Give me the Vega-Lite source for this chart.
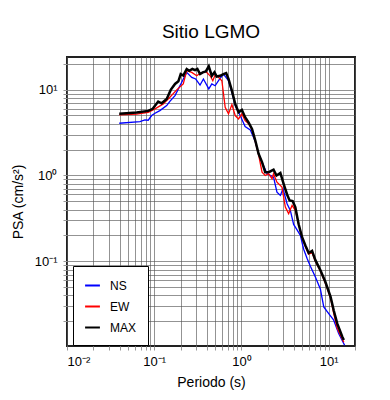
{
  "$schema": "https://vega.github.io/schema/vega-lite/v6.json",
  "autosize": "none",
  "width": 288,
  "height": 289,
  "padding": {"left": 67, "top": 57, "right": 35, "bottom": 54},
  "background": "white",
  "title": {"text": "Sitio LGMO", "font": "Liberation Sans", "fontSize": 19, "fontWeight": "normal", "color": "black", "offset": 15, "anchor": "middle"},
  "config": {
    "view": {"stroke": "#222", "strokeWidth": 2},
    "axis": {"labelFont": "Liberation Sans", "titleFont": "Liberation Sans", "labelFontSize": 13, "titleFontSize": 14, "titleFontWeight": "normal", "labelColor": "black", "titleColor": "black", "domain": false, "grid": true, "gridColor": "#555", "gridWidth": 0.8, "gridOpacity": 0.8, "tickColor": "#999", "tickSize": 4, "labelOverlap": false}
  },
  "data": {"values": [
    {"c":"NS","T":0.0397,"psa":4.06},{"c":"NS","T":0.0686,"psa":4.25},{"c":"NS","T":0.0782,"psa":4.44},{"c":"NS","T":0.0853,"psa":4.40},{"c":"NS","T":0.0933,"psa":4.99},{"c":"NS","T":0.102,"psa":5.3},{"c":"NS","T":0.116,"psa":5.70},{"c":"NS","T":0.139,"psa":6.51},{"c":"NS","T":0.151,"psa":7.31},{"c":"NS","T":0.173,"psa":8.52},{"c":"NS","T":0.189,"psa":10.2},{"c":"NS","T":0.2065,"psa":12.2},{"c":"NS","T":0.2355,"psa":15.9},{"c":"NS","T":0.269,"psa":13.9},{"c":"NS","T":0.299,"psa":13.3},{"c":"NS","T":0.335,"psa":11.3},{"c":"NS","T":0.366,"psa":13.3},{"c":"NS","T":0.422,"psa":10.2},{"c":"NS","T":0.457,"psa":11.65},{"c":"NS","T":0.499,"psa":11.1},{"c":"NS","T":0.545,"psa":12.7},{"c":"NS","T":0.621,"psa":15.2},{"c":"NS","T":0.710,"psa":12.7},{"c":"NS","T":0.776,"psa":9.3},{"c":"NS","T":0.847,"psa":6.51},{"c":"NS","T":0.966,"psa":4.99},{"c":"NS","T":1.10,"psa":3.71},{"c":"NS","T":1.26,"psa":3.40},{"c":"NS","T":1.44,"psa":2.48},{"c":"NS","T":1.57,"psa":1.79},{"c":"NS","T":1.72,"psa":1.42},{"c":"NS","T":1.96,"psa":1.05},{"c":"NS","T":2.33,"psa":0.956},{"c":"NS","T":2.55,"psa":0.639},{"c":"NS","T":2.79,"psa":0.585},{"c":"NS","T":2.99,"psa":0.700},{"c":"NS","T":3.33,"psa":0.469},{"c":"NS","T":3.63,"psa":0.392},{"c":"NS","T":3.96,"psa":0.269},{"c":"NS","T":4.37,"psa":0.229},{"c":"NS","T":4.73,"psa":0.200},{"c":"NS","T":5.16,"psa":0.138},{"c":"NS","T":5.65,"psa":0.108},{"c":"NS","T":6.16,"psa":0.0875},{"c":"NS","T":7.03,"psa":0.0657},{"c":"NS","T":8.03,"psa":0.0472},{"c":"NS","T":8.77,"psa":0.0294},{"c":"NS","T":10.0,"psa":0.0246},{"c":"NS","T":11.4,"psa":0.0206},{"c":"NS","T":13.0,"psa":0.0144},{"c":"NS","T":15.2,"psa":0.0105},
    {"c":"EW","T":0.0397,"psa":5.08},{"c":"EW","T":0.0628,"psa":5.19},{"c":"EW","T":0.0853,"psa":5.45},{"c":"EW","T":0.102,"psa":5.97},{"c":"EW","T":0.127,"psa":6.82},{"c":"EW","T":0.151,"psa":8.14},{"c":"EW","T":0.181,"psa":9.93},{"c":"EW","T":0.215,"psa":11.65},{"c":"EW","T":0.2355,"psa":16.6},{"c":"EW","T":0.269,"psa":15.9},{"c":"EW","T":0.307,"psa":14.5},{"c":"EW","T":0.335,"psa":15.5},{"c":"EW","T":0.390,"psa":16.3},{"c":"EW","T":0.437,"psa":14.5},{"c":"EW","T":0.469,"psa":12.7},{"c":"EW","T":0.499,"psa":14.9},{"c":"EW","T":0.545,"psa":13.9},{"c":"EW","T":0.596,"psa":12.7},{"c":"EW","T":0.650,"psa":6.23},{"c":"EW","T":0.710,"psa":5.22},{"c":"EW","T":0.776,"psa":6.69},{"c":"EW","T":0.847,"psa":4.99},{"c":"EW","T":0.925,"psa":4.56},{"c":"EW","T":1.01,"psa":5.22},{"c":"EW","T":1.10,"psa":4.36},{"c":"EW","T":1.20,"psa":4.02},{"c":"EW","T":1.32,"psa":3.43},{"c":"EW","T":1.44,"psa":2.48},{"c":"EW","T":1.57,"psa":1.75},{"c":"EW","T":1.72,"psa":1.09},{"c":"EW","T":1.87,"psa":1.0},{"c":"EW","T":2.04,"psa":1.05},{"c":"EW","T":2.24,"psa":0.915},{"c":"EW","T":2.33,"psa":1.05},{"c":"EW","T":2.55,"psa":0.836},{"c":"EW","T":2.91,"psa":0.731},{"c":"EW","T":3.18,"psa":0.428},{"c":"EW","T":3.47,"psa":0.359},{"c":"EW","T":3.80,"psa":0.448},{"c":"EW","T":4.14,"psa":0.392},{"c":"EW","T":4.52,"psa":0.269},{"c":"EW","T":4.94,"psa":0.19},{"c":"EW","T":5.40,"psa":0.149},{"c":"EW","T":5.89,"psa":0.121},{"c":"EW","T":6.44,"psa":0.126},{"c":"EW","T":7.03,"psa":0.1},{"c":"EW","T":8.03,"psa":0.0765},{"c":"EW","T":9.16,"psa":0.0555},{"c":"EW","T":10.5,"psa":0.0371},{"c":"EW","T":11.4,"psa":0.0248},{"c":"EW","T":12.5,"psa":0.0166},{"c":"EW","T":14.3,"psa":0.0124},{"c":"EW","T":14.9,"psa":0.0114},
    {"c":"MAX","T":0.0397,"psa":5.22},{"c":"MAX","T":0.0628,"psa":5.40},{"c":"MAX","T":0.0853,"psa":5.65},{"c":"MAX","T":0.096,"psa":5.97},{"c":"MAX","T":0.111,"psa":7.25},{"c":"MAX","T":0.1216,"psa":6.93},{"c":"MAX","T":0.139,"psa":7.80},{"c":"MAX","T":0.1545,"psa":9.93},{"c":"MAX","T":0.173,"psa":11.65},{"c":"MAX","T":0.189,"psa":12.5},{"c":"MAX","T":0.201,"psa":15.2},{"c":"MAX","T":0.215,"psa":14.6},{"c":"MAX","T":0.2355,"psa":17.4},{"c":"MAX","T":0.252,"psa":16.6},{"c":"MAX","T":0.2735,"psa":17.4},{"c":"MAX","T":0.294,"psa":16.9},{"c":"MAX","T":0.312,"psa":17.4},{"c":"MAX","T":0.335,"psa":15.2},{"c":"MAX","T":0.360,"psa":15.9},{"c":"MAX","T":0.390,"psa":16.3},{"c":"MAX","T":0.4217,"psa":18.7},{"c":"MAX","T":0.457,"psa":14.5},{"c":"MAX","T":0.490,"psa":15.9},{"c":"MAX","T":0.521,"psa":14.2},{"c":"MAX","T":0.569,"psa":14.5},{"c":"MAX","T":0.621,"psa":15.2},{"c":"MAX","T":0.667,"psa":15.6},{"c":"MAX","T":0.710,"psa":13.3},{"c":"MAX","T":0.776,"psa":9.73},{"c":"MAX","T":0.847,"psa":6.82},{"c":"MAX","T":0.925,"psa":5.45},{"c":"MAX","T":1.01,"psa":5.81},{"c":"MAX","T":1.10,"psa":4.77},{"c":"MAX","T":1.20,"psa":4.17},{"c":"MAX","T":1.32,"psa":3.49},{"c":"MAX","T":1.44,"psa":2.55},{"c":"MAX","T":1.57,"psa":1.79},{"c":"MAX","T":1.72,"psa":1.43},{"c":"MAX","T":1.87,"psa":1.09},{"c":"MAX","T":2.08,"psa":1.10},{"c":"MAX","T":2.33,"psa":1.17},{"c":"MAX","T":2.52,"psa":1.0},{"c":"MAX","T":2.79,"psa":1.07},{"c":"MAX","T":3.04,"psa":0.80},{"c":"MAX","T":3.33,"psa":0.60},{"c":"MAX","T":3.56,"psa":0.512},{"c":"MAX","T":3.86,"psa":0.502},{"c":"MAX","T":4.14,"psa":0.428},{"c":"MAX","T":4.52,"psa":0.27},{"c":"MAX","T":4.94,"psa":0.192},{"c":"MAX","T":5.40,"psa":0.153},{"c":"MAX","T":5.89,"psa":0.125},{"c":"MAX","T":6.44,"psa":0.132},{"c":"MAX","T":7.03,"psa":0.103},{"c":"MAX","T":8.03,"psa":0.0786},{"c":"MAX","T":9.16,"psa":0.0574},{"c":"MAX","T":10.5,"psa":0.0385},{"c":"MAX","T":11.4,"psa":0.0269},{"c":"MAX","T":12.5,"psa":0.0189},{"c":"MAX","T":14.3,"psa":0.0132},{"c":"MAX","T":14.9,"psa":0.0121}
  ]},
  "encoding": {
    "x": {"field": "T", "type": "quantitative",
      "scale": {"type": "log", "domain": [0.01, 20], "nice": false},
      "axis": {"title": "Periodo (s)", "titlePadding": 7, "labelPadding": 5,
        "values": [0.01,0.02,0.03,0.04,0.05,0.06,0.07,0.08,0.09,0.1,0.2,0.3,0.4,0.5,0.6,0.7,0.8,0.9,1,2,3,4,5,6,7,8,9,10,20],
        "labelExpr": "datum.value == 0.01 ? '10⁻²' : datum.value == 0.1 ? '10⁻¹' : datum.value == 1 ? '10⁰' : datum.value == 10 ? '10¹' : ''"}},
    "y": {"field": "psa", "type": "quantitative",
      "scale": {"type": "log", "domain": [0.0103, 24], "nice": false},
      "axis": {"title": "PSA (cm/s²)", "titlePadding": 9, "labelPadding": 6,
        "values": [0.02,0.03,0.04,0.05,0.06,0.07,0.08,0.09,0.1,0.2,0.3,0.4,0.5,0.6,0.7,0.8,0.9,1,2,3,4,5,6,7,8,9,10,20],
        "labelExpr": "datum.value == 0.1 ? '10⁻¹' : datum.value == 1 ? '10⁰' : datum.value == 10 ? '10¹' : ''"}},
    "color": {"field": "c", "type": "nominal",
      "scale": {"domain": ["NS", "EW", "MAX"], "range": ["#0000ff", "#ff0000", "#000000"]},
      "legend": {"title": null, "orient": "none", "legendX": 6, "legendY": 209,
        "fillColor": "white", "strokeColor": "black", "padding": 11,
        "labelFont": "Liberation Sans", "labelFontSize": 12, "labelColor": "black",
        "symbolType": "stroke", "symbolSize": 220, "symbolStrokeWidth": 2,
        "rowPadding": 6, "labelOffset": 9, "labelLimit": 200}}
  },
  "layer": [
    {"transform": [{"filter": "datum.c != 'MAX'"}], "mark": {"type": "line", "clip": true, "strokeWidth": 1.3}},
    {"transform": [{"filter": "datum.c == 'MAX'"}], "mark": {"type": "line", "clip": true, "strokeWidth": 2.5}}
  ]
}
